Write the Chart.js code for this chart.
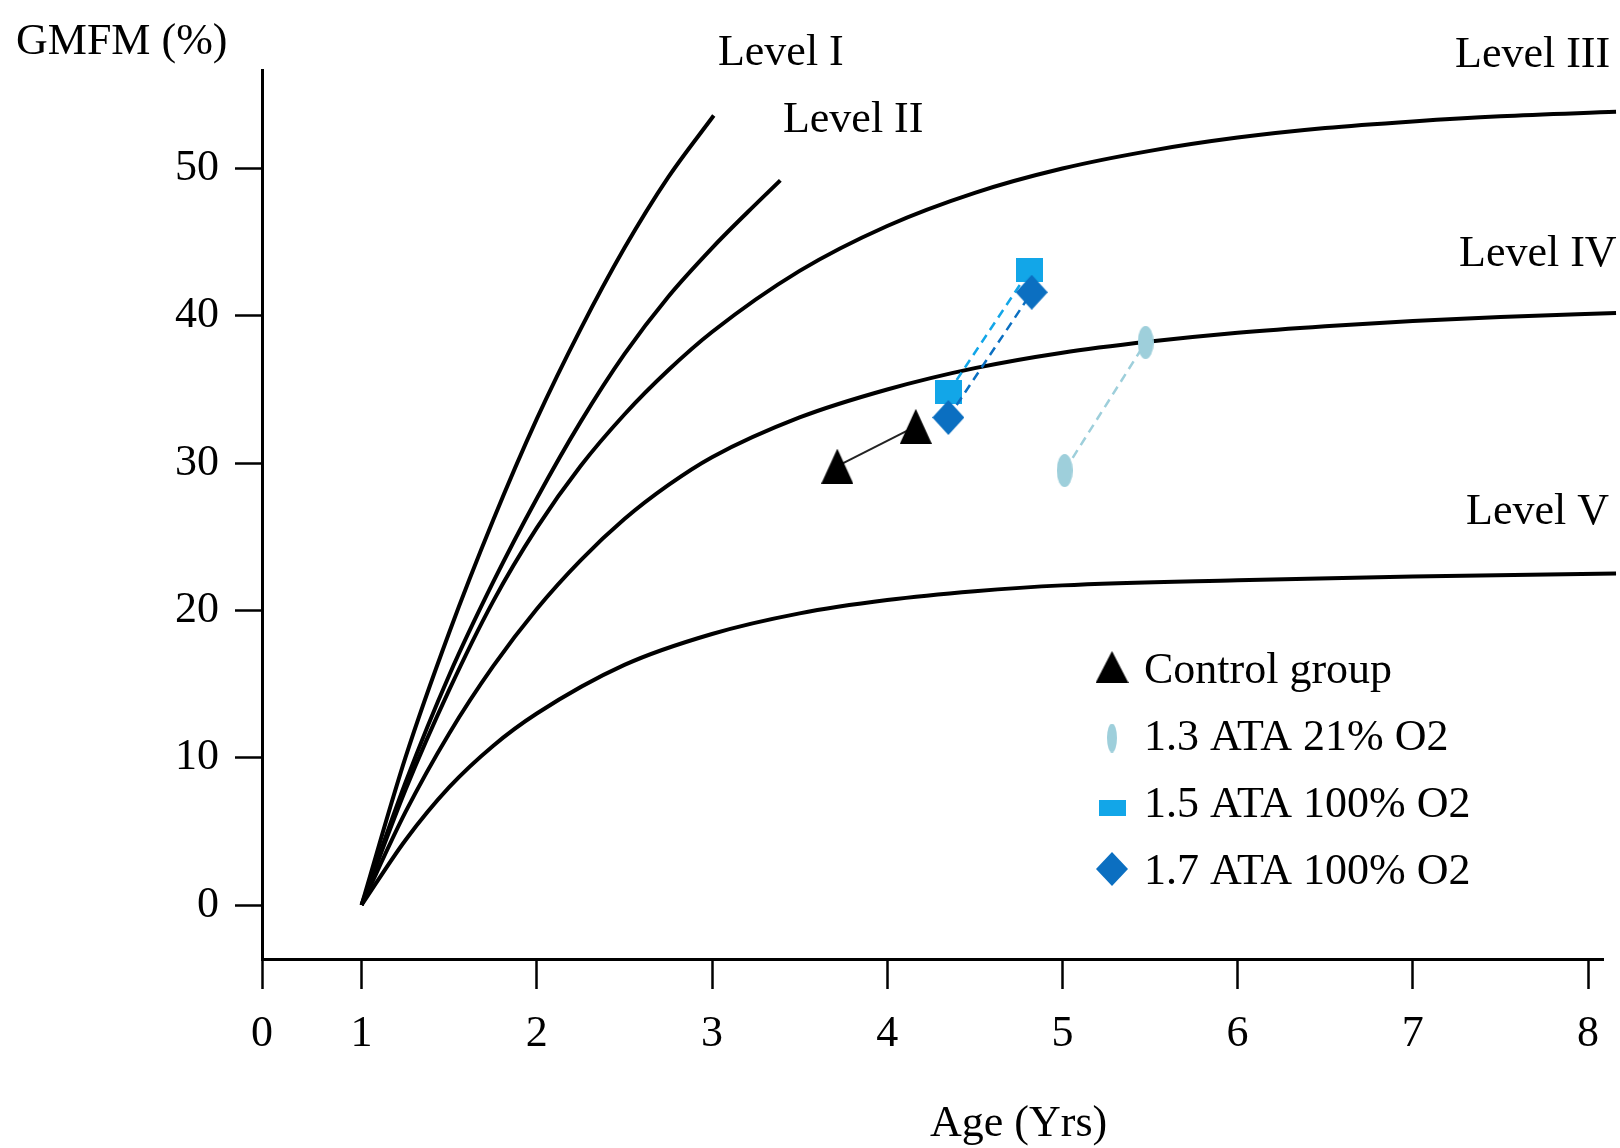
<!DOCTYPE html>
<html lang="en">

<head>
    <meta charset="utf-8">
    <title>GMFM growth curves</title>
    <script src="https://cdn.jsdelivr.net/npm/chart.js@4.4.1/dist/chart.umd.min.js"></script>
    <style>
        body {
            margin: 0;
            padding: 0;
            background-color: #ffffff;
        }

        canvas {
            display: block;
        }
    </style>
</head>

<body>
    <canvas id="gmfmChart" width="1620" height="1148"></canvas>

    <script>
        // tick labels
        const ageTicks = ['0', '1', '2', '3', '4', '5', '6', '7', '8'];
        const scoreTicks = [0, 10, 20, 30, 40, 50];

        // GMFCS reference curves (age in years, GMFM %)
        const levelIAge = [1, 1.25, 1.5, 1.75, 2, 2.25, 2.5, 2.75, 3.01];
        const levelIScore = [0, 10, 18.5, 26.1, 33, 39.1, 44.6, 49.4, 53.6];
        const levelIIAge = [1, 1.25, 1.5, 1.75, 2, 2.25, 2.5, 2.75, 3, 3.2, 3.39];
        const levelIIScore = [0, 8.3, 15.6, 21.9, 27.6, 32.8, 37.4, 41.3, 44.6, 47, 49.2];
        const levelIIIAge = [1, 1.25, 1.5, 1.75, 2, 2.25, 2.5, 2.75, 3, 3.5, 4, 4.5, 5, 5.5, 6, 6.5, 7, 7.5, 8.16];
        const levelIIIScore = [0, 7.8, 14.6, 20.6, 25.6, 29.8, 33.3, 36.3, 38.9, 43.05, 46.1, 48.35, 50, 51.2, 52.1, 52.75, 53.2, 53.55, 53.85];
        const levelIVAge = [1, 1.25, 1.5, 1.75, 2, 2.25, 2.5, 2.75, 3, 3.5, 4, 4.5, 5, 5.5, 6, 6.5, 7, 7.5, 8.16];
        const levelIVScore = [0, 6.3, 11.65, 16.2, 20.1, 23.4, 26.2, 28.5, 30.4, 33.1, 35, 36.45, 37.5, 38.25, 38.85, 39.3, 39.65, 39.92, 40.2];
        const levelVAge = [1, 1.25, 1.5, 1.75, 2, 2.5, 3, 3.5, 4, 4.5, 5, 6, 7, 8.16];
        const levelVScore = [0, 4.4, 8, 10.8, 13, 16.3, 18.4, 19.8, 20.7, 21.3, 21.7, 22.05, 22.3, 22.5];

        // groups, before and after
        const controlAge = [3.715, 4.163];
        const controlScore = [29.8, 32.5];
        const ata13Age = [5.013, 5.475];
        const ata13Score = [29.5, 38.2];
        const ata15Age = [4.349, 4.813];
        const ata15Score = [34.8, 43.1];
        const ata17Age = [4.349, 4.825];
        const ata17Score = [33.1, 41.6];

        const levelNames = ['Level I', 'Level II', 'Level III', 'Level IV', 'Level V'];
        const groupNames = ['Control group', '1.3 ATA 21% O2', '1.5 ATA 100% O2', '1.7 ATA 100% O2'];

        const FONT = '"Liberation Serif", "Times New Roman", serif';
        const X_MIN = 0.4315;
        const X_MAX = 8.0856;

        function toPoints(xs, ys) {
            return xs.map((x, i) => ({ x: x, y: ys[i] }));
        }

        function marker(shape, w, h, color) {
            const c = document.createElement('canvas');
            c.width = w;
            c.height = h;
            const g = c.getContext('2d');
            g.fillStyle = color;
            g.beginPath();
            if (shape === 'triangle') {
                g.moveTo(w / 2, 0); g.lineTo(w, h); g.lineTo(0, h);
            } else if (shape === 'diamond') {
                g.moveTo(w / 2, 0); g.lineTo(w, h / 2); g.lineTo(w / 2, h); g.lineTo(0, h / 2);
            } else if (shape === 'ellipse') {
                g.ellipse(w / 2, h / 2, w / 2, h / 2, 0, 0, Math.PI * 2);
            } else {
                g.rect(0, 0, w, h);
            }
            g.closePath();
            g.fill();
            return c;
        }

        const colors = ['#000000', '#9ecfdb', '#12a6e8', '#0b6fc1'];

        const chartMarkers = [
            marker('triangle', 32, 35, colors[0]),
            marker('ellipse', 16, 33, colors[1]),
            marker('rect', 27, 24, colors[2]),
            marker('diamond', 32, 35, colors[3])
        ];
        const legendMarkers = [
            { img: marker('triangle', 33, 32, colors[0]), dy: -16 },
            { img: marker('ellipse', 10, 29, colors[1]), dy: -12 },
            { img: marker('rect', 27, 16, colors[2]), dy: -9 },
            { img: marker('diamond', 32, 34, colors[3]), dy: -15 }
        ];

        function curve(name, xs, ys) {
            return {
                label: name,
                data: toPoints(xs, ys),
                borderColor: '#000000',
                borderWidth: 4,
                pointRadius: 0,
                cubicInterpolationMode: 'monotone',
                clip: false,
                order: 5
            };
        }

        function group(i, xs, ys, dash, order) {
            return {
                label: groupNames[i],
                data: toPoints(xs, ys),
                borderColor: i === 0 ? '#222222' : colors[i],
                borderWidth: i === 0 ? 2 : 2.5,
                borderDash: dash,
                pointStyle: chartMarkers[i],
                pointRadius: 10,
                pointBackgroundColor: colors[i],
                order: order
            };
        }

        // level labels, anchored at left/baseline in data units
        const levelLabelAge = [3.034, 3.405, 7.241, 7.264, 7.304];
        const levelLabelScore = [57.0, 52.5, 56.9, 43.4, 25.9];

        const annotations = {
            id: 'annotations',
            afterDraw(chart) {
                const { ctx, scales: { x, y } } = chart;
                ctx.save();
                ctx.fillStyle = '#000000';
                ctx.font = '44px ' + FONT;
                ctx.textAlign = 'left';
                ctx.textBaseline = 'alphabetic';

                levelNames.forEach((t, i) => {
                    ctx.fillText(t, x.getPixelForValue(levelLabelAge[i]), y.getPixelForValue(levelLabelScore[i]));
                });

                // axis titles
                ctx.fillText('GMFM (%)', 16, 54);
                ctx.fillText('Age (Yrs)', 930, 1136);

                // legend
                const lx = 1112;
                const tx = 1144;
                groupNames.forEach((t, i) => {
                    const base = 683 + i * 67;
                    const m = legendMarkers[i];
                    ctx.drawImage(m.img, lx - m.img.width / 2, base + m.dy - m.img.height / 2);
                    ctx.fillText(t, tx, base, 330);
                });
                ctx.restore();
            }
        };

        Chart.defaults.font.family = FONT;
        Chart.defaults.color = '#000000';

        const ctx = document.getElementById('gmfmChart').getContext('2d');

        const gmfmChart = new Chart(ctx, {
            type: 'line',
            data: {
                datasets: [
                    group(3, ata17Age, ata17Score, [9, 6], 0),
                    group(2, ata15Age, ata15Score, [9, 6], 1),
                    group(1, ata13Age, ata13Score, [9, 6], 1),
                    group(0, controlAge, controlScore, [], 1),
                    curve(levelNames[0], levelIAge, levelIScore),
                    curve(levelNames[1], levelIIAge, levelIIScore),
                    curve(levelNames[2], levelIIIAge, levelIIIScore),
                    curve(levelNames[3], levelIVAge, levelIVScore),
                    curve(levelNames[4], levelVAge, levelVScore)
                ]
            },
            options: {
                responsive: false,
                animation: false,
                layout: {
                    padding: { left: 0, right: 17, top: 70, bottom: 0 }
                },
                plugins: {
                    legend: { display: false },
                    tooltip: { enabled: false }
                },
                scales: {
                    x: {
                        type: 'linear',
                        min: X_MIN,
                        max: X_MAX,
                        afterBuildTicks: (scale) => {
                            scale.ticks = ageTicks.map((t, i) => ({ value: i === 0 ? X_MIN : Number(t) }));
                        },
                        afterFit: (scale) => { scale.height = 189; },
                        ticks: {
                            autoSkip: false,
                            maxRotation: 0,
                            padding: 19,
                            font: { size: 44 },
                            callback: (v, i) => ageTicks[i]
                        },
                        grid: {
                            drawOnChartArea: false,
                            drawTicks: true,
                            tickLength: 30,
                            tickWidth: 2.5,
                            tickColor: '#000000'
                        },
                        border: { display: true, color: '#000000', width: 3 }
                    },
                    y: {
                        type: 'linear',
                        min: -3.666,
                        max: 56.69,
                        afterBuildTicks: (scale) => {
                            scale.ticks = scoreTicks.map(v => ({ value: v }));
                        },
                        afterFit: (scale) => { scale.width = 262; },
                        ticks: {
                            padding: 16,
                            font: { size: 44 },
                            callback: (v) => String(v)
                        },
                        grid: {
                            drawOnChartArea: false,
                            drawTicks: true,
                            tickLength: 27,
                            tickWidth: 2.5,
                            tickColor: '#000000'
                        },
                        border: { display: true, color: '#000000', width: 3 }
                    }
                }
            },
            plugins: [annotations]
        });
    </script>
</body>

</html>
